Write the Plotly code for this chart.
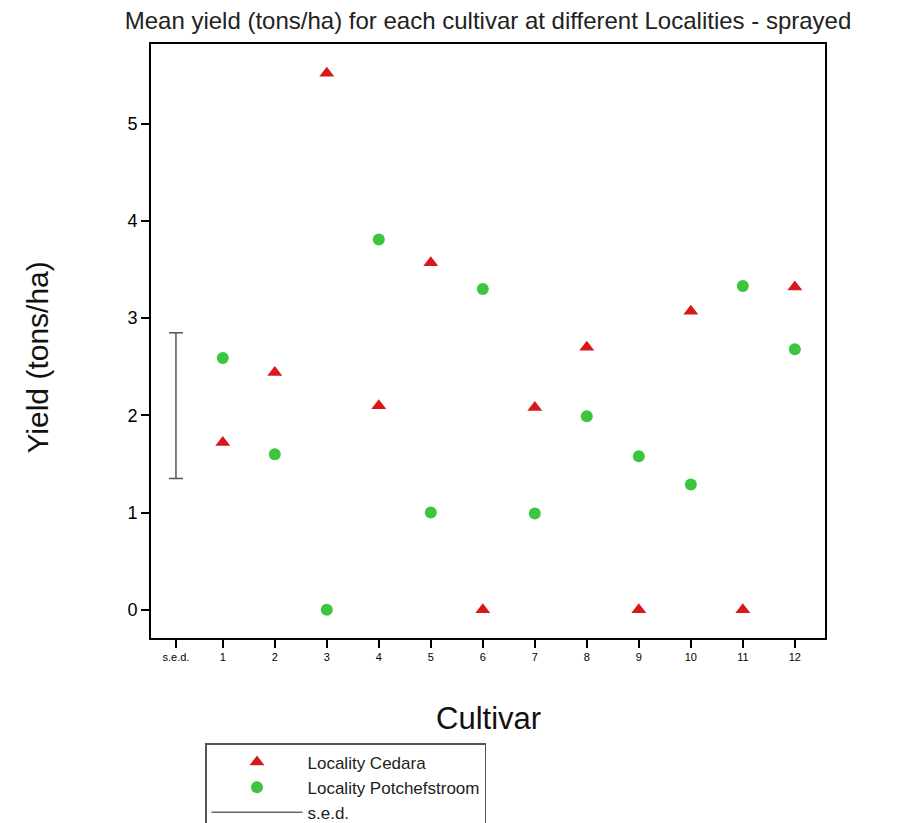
import plotly.graph_objects as go

# cultivar positions (s.e.d. bar sits just left of cultivar 1)
cultivars = list(range(1, 13))
tick_labels = ["s.e.d."] + [str(c) for c in cultivars]
tick_vals = [0.1] + cultivars

cedara = [1.72, 2.44, 5.52, 2.10, 3.57, 0.0, 2.08, 2.70, 0.0, 3.07, 0.0, 3.32]
potchefstroom = [2.59, 1.60, 0.0, 3.81, 1.00, 3.30, 0.99, 1.99, 1.58, 1.29, 3.33, 2.68]

sed_x = 0.1
sed_centre = 2.1
sed_half = 0.75

fig = go.Figure()

fig.add_trace(go.Scatter(
    x=cultivars, y=cedara, mode='markers', name='Locality Cedara',
    marker=dict(symbol='triangle-up', size=13, color='#d7191c'),
))
fig.add_trace(go.Scatter(
    x=cultivars, y=potchefstroom, mode='markers', name='Locality Potchefstroom',
    marker=dict(symbol='circle', size=12, color='#3dc53d'),
))
fig.add_trace(go.Scatter(
    x=[sed_x], y=[sed_centre], mode='lines', name='s.e.d.',
    line=dict(color='#666666', width=1.5),
    error_y=dict(type='data', array=[sed_half], symmetric=True,
                 color='#555555', thickness=1.5, width=7),
))

# axis titles as annotations so they sit exactly where the original has them
fig.add_annotation(text='Cultivar', xref='paper', yref='paper', x=0.5, y=-0.1347,
                   xanchor='center', yanchor='middle', showarrow=False,
                   font=dict(size=31, color='#111111'))
fig.add_annotation(text='Yield (tons/ha)', xref='paper', yref='paper', x=-0.1684, y=0.473,
                   xanchor='center', yanchor='middle', textangle=-90, showarrow=False,
                   font=dict(size=30, color='#111111'))

fig.update_layout(
    width=903, height=823,
    margin=dict(l=143, r=86, t=36, b=193, autoexpand=False),
    paper_bgcolor='white', plot_bgcolor='white',
    font=dict(family='Liberation Sans, Arial, sans-serif', color='black'),
    title=dict(text='Mean yield (tons/ha) for each cultivar at different Localities - sprayed',
               x=0.5, xref='paper', xanchor='center',
               y=1 - 13 / 823, yref='container', yanchor='middle',
               font=dict(size=24, color='#222222')),
    showlegend=True,
    legend=dict(x=197 / 903, y=(823 - 735) / 823, xref='container', yref='container',
                xanchor='left', yanchor='top',
                bordercolor='#555555', borderwidth=1.5, bgcolor='white',
                font=dict(size=17, color='#222222'), tracegroupgap=0, itemwidth=91),
    xaxis=dict(
        range=[-0.38, 12.58], tickvals=tick_vals, ticktext=tick_labels, automargin=False,
        tickfont=dict(size=11), tickangle=0, ticks='outside', ticklen=8, tickwidth=2,
        tickcolor='black',
        showline=True, linecolor='black', linewidth=2, mirror=True,
        showgrid=False, zeroline=False,
    ),
    yaxis=dict(
        range=[-0.29, 5.82], tickvals=[0, 1, 2, 3, 4, 5], automargin=False,
        tickfont=dict(size=18), ticks='outside', ticklen=8, tickwidth=2, tickcolor='black',
        showline=True, linecolor='black', linewidth=2, mirror=True,
        showgrid=False, zeroline=False,
    ),
)

fig.write_html("out.html")
